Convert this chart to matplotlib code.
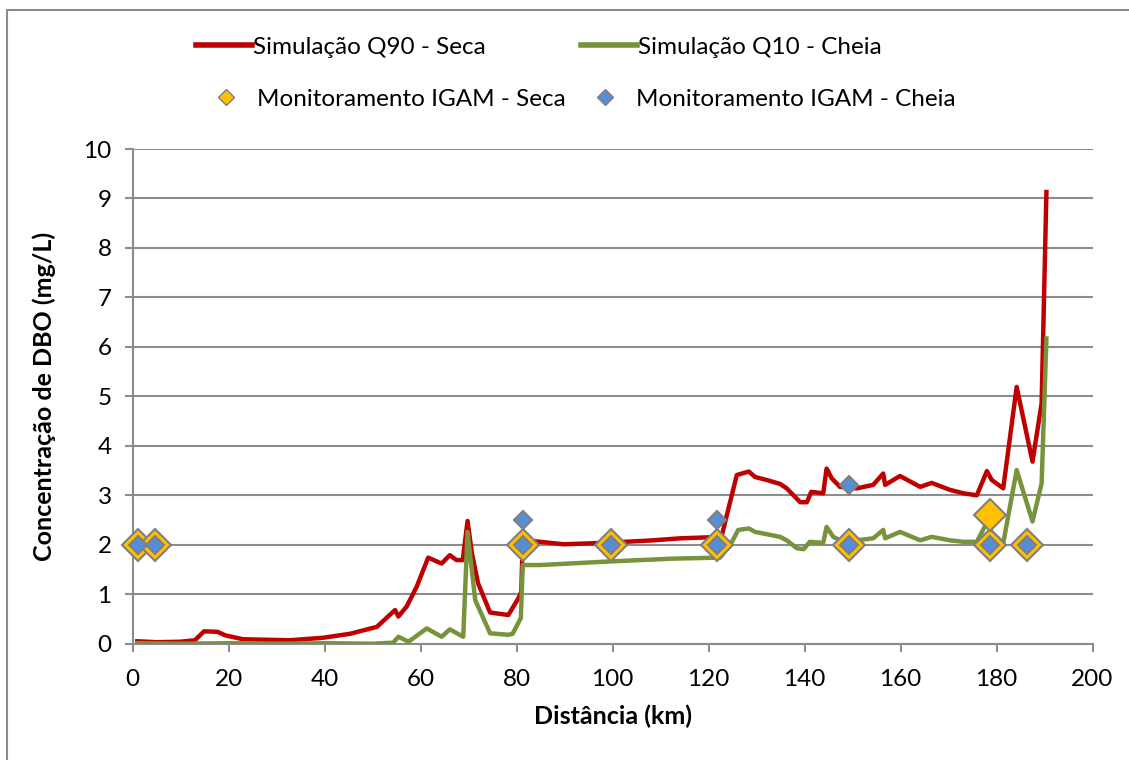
import matplotlib.pyplot as plt
from matplotlib.lines import Line2D
from matplotlib.patches import Rectangle

# perfil de DBO simulado ao longo do rio
dist_q90 = [1, 5, 10, 13, 14.9, 17.7, 19.3, 23, 32.8, 39.7, 45.3, 50.9, 54.7, 55.4,
            57.1, 59.2, 61.6, 64.4, 66.1, 67.5, 68.8, 69.8, 70.7, 72.0, 74.5, 78.3,
            80.4, 81.0, 81.3, 84.9, 89.8, 98.8, 108.5, 114.1, 122.7, 125.9, 128.4,
            129.7, 132.1, 134.9, 136.3, 139.1, 140.5, 141.4, 143.9, 144.6, 145.7,
            147.4, 150.9, 154.3, 156.4, 156.8, 159.9, 164.1, 166.5, 170.3, 173.1,
            175.9, 178.0, 179.0, 181.4, 184.2, 187.5, 189.4, 190.4]
dbo_q90 = [0.05, 0.03, 0.04, 0.07, 0.25, 0.24, 0.17, 0.09, 0.07, 0.12, 0.20, 0.34,
           0.68, 0.55, 0.75, 1.15, 1.74, 1.62, 1.79, 1.69, 1.69, 2.48, 1.83, 1.22,
           0.63, 0.58, 0.92, 1.05, 2.09, 2.06, 2.01, 2.04, 2.09, 2.13, 2.16, 3.41,
           3.48, 3.37, 3.31, 3.23, 3.14, 2.86, 2.86, 3.07, 3.04, 3.54, 3.34, 3.17,
           3.14, 3.21, 3.44, 3.21, 3.39, 3.17, 3.25, 3.11, 3.04, 3.00, 3.49, 3.31,
           3.14, 5.19, 3.68, 4.86, 9.13]

dist_q10 = [1, 10, 20, 30, 40, 50, 54.3, 55.4, 57.5, 61.3, 64.4, 66.1, 68.9, 69.8,
            71.4, 74.5, 78.3, 79.2, 80.9, 81.3, 84.9, 98.8, 112.7, 122.4, 124.5,
            126.2, 128.4, 129.7, 134.9, 136.3, 138.4, 139.8, 141.1, 143.9, 144.6,
            146.0, 147.4, 150.9, 154.3, 156.4, 156.8, 159.9, 164.1, 166.5, 170.3,
            173.1, 175.9, 178.0, 179.0, 181.4, 184.2, 187.5, 189.4, 190.4]
dbo_q10 = [0.01, 0.0, 0.01, 0.0, 0.01, 0.0, 0.02, 0.14, 0.04, 0.31, 0.14, 0.29,
           0.14, 2.26, 0.88, 0.21, 0.18, 0.20, 0.52, 1.59, 1.59, 1.66, 1.72, 1.74,
           1.99, 2.30, 2.33, 2.26, 2.16, 2.09, 1.93, 1.91, 2.06, 2.04, 2.36, 2.16,
           2.09, 2.09, 2.13, 2.30, 2.13, 2.26, 2.09, 2.16, 2.09, 2.06, 2.06, 2.45,
           2.25, 2.03, 3.51, 2.47, 3.24, 6.17]

# pontos de monitoramento IGAM
dist_igam_seca = [1.1, 4.7, 81.3, 99.7, 121.7, 149.3, 178.7, 178.7, 186.3]
dbo_igam_seca = [2, 2, 2, 2, 2, 2, 2, 2.6, 2]
dist_igam_cheia = [1.1, 4.7, 81.3, 81.3, 99.7, 121.7, 121.7, 149.3, 149.3, 178.7, 186.3]
dbo_igam_cheia = [2, 2, 2, 2.5, 2, 2, 2.5, 2, 3.2, 2, 2]

red = '#C00000'
green = '#77933C'
yellow = '#FFC000'
blue = '#558ED5'
edge = '#7F7F7F'
gridc = '#8C8C8C'

plt.rcParams['font.family'] = ['Lato', 'DejaVu Sans']
fs = 17.5

fig = plt.figure(figsize=(11.29, 7.6), dpi=100)
ax = fig.add_axes([132.5 / 1129, 1 - 643.7 / 760, 960 / 1129, (643.7 - 149) / 760])

# moldura externa
fig.patches.append(Rectangle((7 / 1129, -0.1), 1.2, 1 - 10 / 760 + 0.1,
                             transform=fig.transFigure, fill=False,
                             edgecolor='#8C8C8C', linewidth=1.5))

ax.plot(dist_q90, dbo_q90, color=red, lw=3.2, zorder=3, solid_joinstyle='round')
ax.plot(dist_q10, dbo_q10, color=green, lw=3.2, zorder=3, solid_joinstyle='round')
ax.plot(dist_igam_seca, dbo_igam_seca, linestyle='none', marker='D', ms=16,
        mfc=yellow, mec=edge, mew=1.5, zorder=4, clip_on=False)
ax.plot(dist_igam_cheia, dbo_igam_cheia, linestyle='none', marker='D', ms=9.5,
        mfc=blue, mec=edge, mew=1.5, zorder=5, clip_on=False)

ax.set_xlim(0, 200)
ax.set_ylim(0, 10)
ax.set_xticks(range(0, 201, 20))
ax.set_yticks(range(0, 11))
ax.grid(axis='y', color=gridc, lw=1.5)
ax.set_axisbelow(True)
for s in ['top', 'right']:
    ax.spines[s].set_visible(False)
for s in ['left', 'bottom']:
    ax.spines[s].set_color(gridc)
    ax.spines[s].set_linewidth(1.5)
ax.tick_params(direction='out', length=6, width=1.5, color=gridc, labelsize=fs)
ax.tick_params(axis='x', pad=12)
ax.tick_params(axis='y', pad=9)

ax.set_xlabel('Distância (km)', fontsize=fs + 0.5, fontweight='bold', labelpad=11)
ax.set_ylabel('Concentração de DBO (mg/L)', fontsize=fs + 0.5, fontweight='bold',
              labelpad=20)

line_handles = [Line2D([], [], color=red, lw=4),
                Line2D([], [], color=green, lw=4)]
leg1 = fig.legend(line_handles, ['Simulação Q90 - Seca', 'Simulação Q10 - Cheia'],
                  loc='center left', bbox_to_anchor=(196 / 1129, 1 - 47 / 760),
                  ncol=2, frameon=False, fontsize=fs, handlelength=2.3,
                  handletextpad=0.05, columnspacing=3.9, borderpad=0, borderaxespad=0)

marker_handles = [Line2D([], [], ls='none', marker='D', ms=8, mfc=yellow, mec=edge, mew=1),
                  Line2D([], [], ls='none', marker='D', ms=8, mfc=blue, mec=edge, mew=1)]
leg2 = fig.legend(marker_handles, ['Monitoramento IGAM - Seca', 'Monitoramento IGAM - Cheia'],
                  loc='center left', bbox_to_anchor=(208 / 1129, 1 - 99 / 760),
                  ncol=2, frameon=False, fontsize=fs, handlelength=1.5,
                  handletextpad=0.5, columnspacing=0.9, borderpad=0, borderaxespad=0)

fig.savefig('out.png', dpi=100)
